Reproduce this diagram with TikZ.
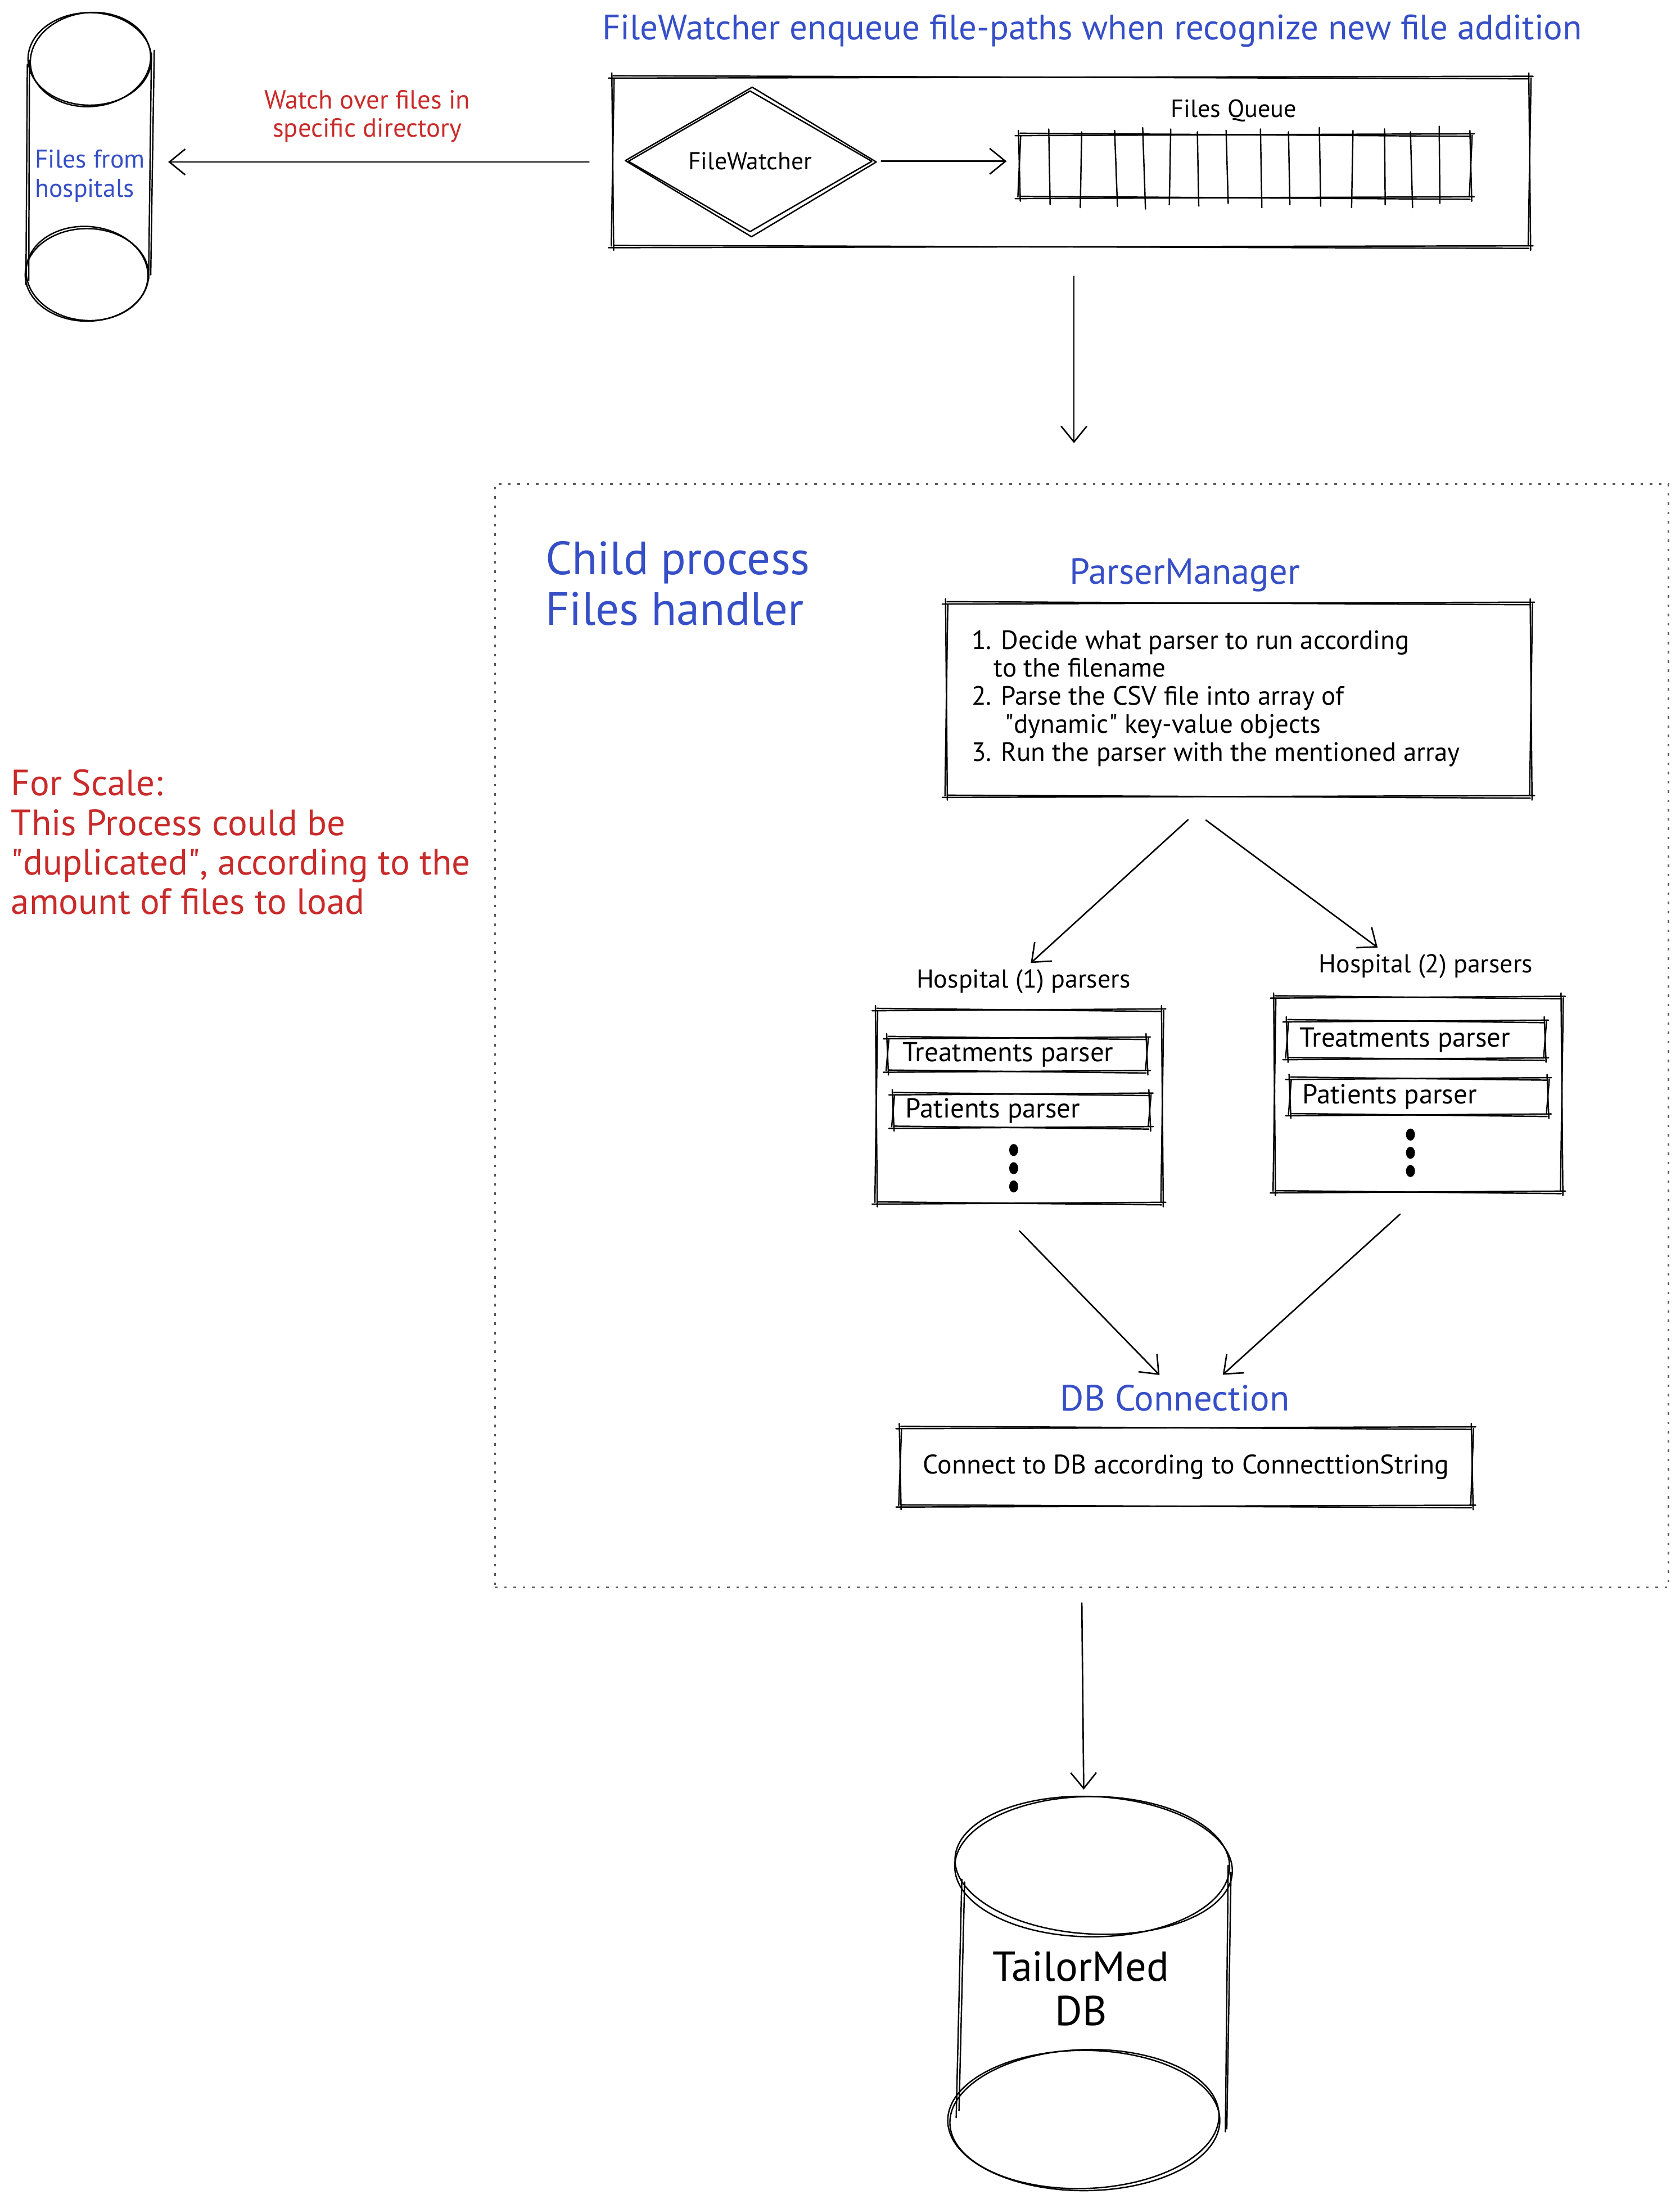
\documentclass[tikz,border=0pt]{standalone}
\usepackage{fontspec}
\setmainfont{PT Sans}
\usetikzlibrary{arrows.meta,shapes.geometric,calc}
\definecolor{exblue}{HTML}{364FC7}
\definecolor{exred}{HTML}{C92A2A}
\definecolor{exgray}{HTML}{5A5A5A}
\newcommand\skbox[2][]{%
  \draw[skl,#1] ([shift={(-3,0.7)}]#2.north west) -- ([shift={(2.5,-0.6)}]#2.north east);
  \draw[skl,#1] ([shift={(0.5,-1.0)}]#2.north west) -- ([shift={(-0.5,1.2)}]#2.north east);
  \draw[skl,#1] ([shift={(-0.6,-3)}]#2.north east) -- ([shift={(0.7,2.5)}]#2.south east);
  \draw[skl,#1] ([shift={(1.0,0.5)}]#2.north east) -- ([shift={(-1.0,-0.8)}]#2.south east);
  \draw[skl,#1] ([shift={(2.5,-0.7)}]#2.south east) -- ([shift={(-3,0.6)}]#2.south west);
  \draw[skl,#1] ([shift={(-0.5,1.1)}]#2.south east) -- ([shift={(0.6,-1.0)}]#2.south west);
  \draw[skl,#1] ([shift={(0.7,2.5)}]#2.south west) -- ([shift={(-0.6,-3)}]#2.north west);
  \draw[skl,#1] ([shift={(-1.0,-0.6)}]#2.south west) -- ([shift={(1.0,0.8)}]#2.north west);
}
\begin{document}
\begin{tikzpicture}[x=0.024942cm,y=-0.024942cm,
  skl/.style={line width=0.7pt,line cap=round,line join=round},
  arr/.style={line width=0.75pt,line cap=round,-{Straight Barb[length=8pt,width=13pt]}},
  sz/.style 2 args={minimum width={#1*0.024942cm},minimum height={#2*0.024942cm}},
  hid/.style={rectangle,draw=none,inner sep=0pt,outer sep=0pt},
  tx/.style={inner sep=0pt,outer sep=0pt},
  flbl/.style={font=\fontsize{12.6pt}{15pt}\selectfont},
  fhosp/.style={font=\fontsize{13.1pt}{15pt}\selectfont},
  fmid/.style={font=\fontsize{13.9pt}{16pt}\selectfont},
  fhead/.style={font=\fontsize{18.4pt}{21pt}\selectfont},
  dashbox/.style={draw=exgray,line width=0.8pt,dash pattern=on 1.3pt off 3.4pt},
]
\fill[white] (0,0) rectangle (1198,1568);
\useasboundingbox (0,0) rectangle (1198,1568);

% ---------- left cylinder: Files from hospitals
\node[hid,sz={88}{219}] (src) at (63,119.5) {};
\draw[skl] (64,42) ellipse [x radius=44,y radius=33];
\draw[skl,rotate around={6:(64,42)}] (64.5,42.5) ellipse [x radius=43,y radius=33.5];
\draw[skl] (62,196) ellipse [x radius=44,y radius=33];
\draw[skl,rotate around={-5:(62,196)}] (62,195) ellipse [x radius=43.5,y radius=33.5];
\draw[skl] (19.5,46) -- (18.5,203);
\draw[skl] (21,43) -- (20.5,200);
\draw[skl] (108,38) -- (106,199);
\draw[skl] (110,36) -- (107.5,196);
\node[tx,anchor=west,align=left,text=exblue,font=\fontsize{13pt}{15pt}\selectfont] (srctxt) at (25,125.5) {Files from\\hospitals};

% ---------- watch label
\node[tx,align=center,text=exred,font=\fontsize{13.3pt}{14.2pt}\selectfont] (watch) at (262,83) {Watch over files in\\specific directory};

% ---------- title
\node[tx,text=exblue,font=\fontsize{17.9pt}{21pt}\selectfont] (title) at (779,22) {FileWatcher enqueue file-paths when recognize new file addition};

% ---------- FileWatcher box
\node[hid,sz={654}{121}] (fwbox) at (764,115.5) {};
\skbox{fwbox}
\node[diamond,draw,skl,inner sep=0pt,sz={174}{82},font=\fontsize{12.4pt}{15pt}\selectfont] (fw) at (535,115) {FileWatcher};
\draw[skl] ([shift={(1.5,-2)}]fw.north) -- ([shift={(2.5,0.5)}]fw.east) -- ([shift={(1,3)}]fw.south) -- ([shift={(-1.5,-0.5)}]fw.west) -- cycle;

\node[tx,flbl] (qlbl) at (880,79) {Files Queue};
\node[hid,sz={322}{45}] (queue) at (888,118.5) {};
\skbox{queue}
\foreach \qx/\ja/\jb/\ya/\yb in {748/0/1/92/146, 771/0.5/-0.5/94/148, 796/-1/1/93/147, 815/0/2/91/149, 834/1/0/92/146, 854/0/1/94/147, 875/-0.5/1/93/145, 899/0/1/92/148, 920/-1/0/94/146, 941/0/1/91/147, 965/0/-1/93/148, 987/0.5/1/92/146, 1006/0/1.5/94/148, 1027/-0.5/0/90/145}
  \draw[skl] ({\qx+\ja},\ya) -- ({\qx+\jb},\yb);

% ---------- connectors at top
\draw[arr,shorten <=12pt,shorten >=9.2pt] (fwbox.west) -- (fwbox.west -| src.east);
\draw[arr,shorten <=4.3pt,shorten >=6.4pt] (fw.east) -- (fw.east -| queue.west);

% ---------- child process dashed box
\node[hid,sz={837}{787},dashbox] (child) at (771.5,738.5) {};
\draw[arr,shorten <=14.9pt,shorten >=20.6pt] ([shift={(2,0)}]fwbox.south) -- ([shift={(2,0)}]fwbox.south |- child.north);

\node[tx,anchor=west,align=left,text=exblue,font=\fontsize{23.6pt}{25.5pt}\selectfont] (childlbl) at (389,416) {Child process\\Files handler};

% ---------- ParserManager
\node[tx,text=exblue,fhead] (pmlbl) at (845,410) {ParserManager};
\node[hid,sz={417}{138}] (pm) at (883.5,499) {};
\skbox{pm}
\node[tx,anchor=west,align=left,font=\fontsize{13.4pt}{14.2pt}\selectfont] (pmtxt) at (693,498) {1. Decide what parser to run according\\
\hspace*{11.3pt}to the filename\\
2. Parse the CSV file into array of\\
\hspace*{17pt}\textquotedbl dynamic\textquotedbl{} key-value objects\\
3. Run the parser with the mentioned array};

% ---------- Hospital 1
\node[tx,fhosp] (h1lbl) at (730,700) {Hospital (1) parsers};
\node[hid,sz={204}{138}] (h1) at (727,789) {};
\skbox{h1}
\node[hid,sz={185}{24}] (t1) at (725.5,752) {};
\skbox{t1}
\node[tx,anchor=west,fmid] (t1txt) at ([shift={(11,0)}]t1.west) {Treatments parser};
\node[hid,sz={183}{24}] (p1) at (728.5,792) {};
\skbox{p1}
\node[tx,anchor=west,fmid] (p1txt) at ([shift={(9,0)}]p1.west) {Patients parser};
\foreach \dy in {820,833,846} \fill (723,\dy) ellipse [x radius=3.2,y radius=4.3];

% ---------- Hospital 2
\node[tx,fhosp] (h2lbl) at (1017,689) {Hospital (2) parsers};
\node[hid,sz={205}{139}] (h2) at (1011.5,780.5) {};
\skbox{h2}
\node[hid,sz={184}{27}] (t2) at (1010,741.5) {};
\skbox{t2}
\node[tx,anchor=west,fmid] (t2txt) at ([shift={(9,0)}]t2.west) {Treatments parser};
\node[hid,sz={184}{26}] (p2) at (1012,782) {};
\skbox{p2}
\node[tx,anchor=west,fmid] (p2txt) at ([shift={(9,0)}]p2.west) {Patients parser};
\foreach \dy in {809,822,835} \fill (1006,\dy) ellipse [x radius=3.2,y radius=4.3];

\draw[arr,shorten <=17.4pt,shorten >=5pt] ([shift={(-18,0)}]pm.south) -- (h1lbl.north);
\draw[arr,shorten <=20pt,shorten >=5.7pt] ([shift={(-46,0)}]pm.south) -- ([shift={(-28,0)}]h2lbl.north);

% ---------- DB connection
\node[tx,text=exblue,fhead] (dbclbl) at (838,997) {DB Connection};
\node[hid,sz={408}{56},font=\fontsize{13.6pt}{16pt}\selectfont] (dbc) at (846,1046) {Connect to DB according to ConnecttionString};
\skbox{dbc}
\draw[arr,shorten <=19.5pt,shorten >=7.1pt] ([shift={(-19,0)}]h1.south) -- ([shift={(-4,0)}]dbclbl.north);
\draw[arr,shorten <=16.6pt,shorten >=7.8pt] ([shift={(4.5,0)}]h2.south) -- ([shift={(26,0)}]dbclbl.north);

% ---------- TailorMed DB cylinder
\node[hid,sz={196}{281}] (db) at (779,1421.5) {};
\draw[skl] (779,1331) ellipse [x radius=98,y radius=50];
\draw[skl,rotate around={-3:(779,1331)}] (780,1330) ellipse [x radius=99,y radius=49];
\draw[skl] (773,1512) ellipse [x radius=97,y radius=50];
\draw[skl,rotate around={2:(773,1512)}] (773.5,1511) ellipse [x radius=96,y radius=49.5];
\draw[skl] (686,1340) -- (682,1510);
\draw[skl] (688,1342) -- (684,1505);
\draw[skl] (876,1330) -- (874,1520);
\draw[skl] (878,1335) -- (875,1518);
\node[tx,align=center,font=\fontsize{21.2pt}{22.7pt}\selectfont] (dbtxt) at (771,1418) {TailorMed\\DB};
\draw[arr,shorten <=7.8pt,shorten >=3.5pt] (child.south) -- ([shift={(-6,0)}]db.north);

% ---------- scale note
\node[tx,anchor=west,align=left,text=exred,font=\fontsize{18.5pt}{20pt}\selectfont] (scale) at (8,600.5) {For Scale:\\This Process could be\\\textquotedbl duplicated\textquotedbl, according to the\\amount of files to load};
\end{tikzpicture}
\end{document}
